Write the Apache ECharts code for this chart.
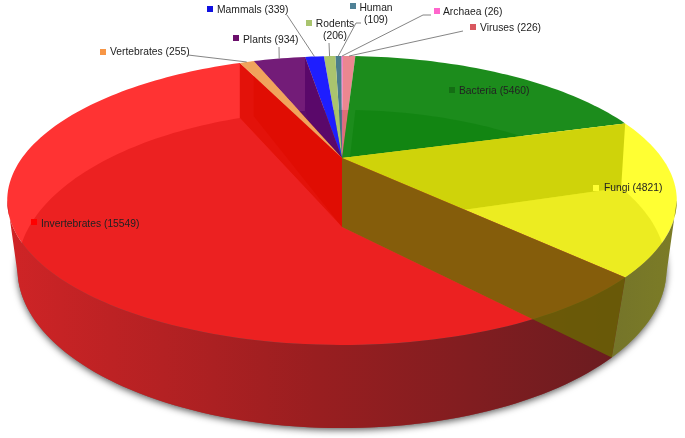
<!DOCTYPE html>
<html>
<head>
<meta charset="utf-8">
<style>
  html, body { margin: 0; padding: 0; background: #fff; }
  #chart { width: 685px; height: 438px; }
</style>
<script src="https://cdn.jsdelivr.net/npm/echarts@6/dist/echarts.min.js"></script>
</head>
<body>
<div id="chart"></div>
<script>
// clockwise from the top of the pie
const categories = ['Bacteria', 'Fungi', 'Invertebrates', 'Vertebrates', 'Plants', 'Mammals', 'Rodents', 'Human', 'Archaea', 'Viruses'];
const values = [5460, 4821, 15549, 255, 934, 339, 206, 109, 26, 226];

const topColors = ['#1c8c1c', '#ffff33', '#ff3333', '#f0a45c', '#731c78', '#1e1eff', '#aac46e', '#4b7d8c', '#f564be', '#eb8790'];
const floorColors = ['rgba(0,120,0,.35)', 'rgba(200,200,0,.35)', 'rgba(200,0,0,.35)', 'rgba(220,120,40,.35)', 'rgba(70,0,90,.5)', 'rgba(0,0,200,.25)', 'rgba(140,170,80,.35)', 'rgba(50,100,120,.35)', 'rgba(220,60,160,.35)', 'rgba(210,90,90,.5)'];
const markerColors = ['#146e14', '#ffff33', '#ff0000', '#f79646', '#6b0f6b', '#1010e0', '#a9c46e', '#4f8196', '#ff66cc', '#d9575f'];

// perspective view of the two discs, apex = where the slices meet
const START_DEG = 3.1;
const CX = 342;
const topFace = { y: 158, k: 0.294, a: 320, b: 132 };
const baseFace = { y: 227, k: 0.264, a: 313, b: 148 };

// label layout: marker x/y, where the text starts, where the leader begins
const labelLayout = [
  { i: 0, mark: [452, 90], text: [459, 91] },
  { i: 1, mark: [596, 188], text: [604, 188] },
  { i: 2, mark: [34, 222], text: [41, 224] },
  { i: 3, mark: [103, 52], text: [110, 52], leader: [[188, 55]] },
  { i: 4, mark: [236, 38], text: [243, 40], leader: [[279, 47]] },
  { i: 5, mark: [210, 9], text: [217, 10], leader: [[287, 15]] },
  { i: 6, mark: [309, 23], text: [335, 30], wrap: true, leader: [[329, 43]] },
  { i: 7, mark: [353, 6], text: [376, 14], wrap: true, leader: [[361, 23], [356, 23]] },
  { i: 8, mark: [437, 11], text: [443, 12], leader: [[431, 15], [423, 15]] },
  { i: 9, mark: [473, 27], text: [480, 28], leader: [[463, 31]] }
];

const total = values.reduce((a, b) => a + b, 0);
const startDeg = [];
const endDeg = [];
let run = START_DEG;
values.forEach((v, i) => {
  startDeg[i] = run;
  run += v / total * 360;
  endDeg[i] = run;
});

function project(face, deg) {
  const t = deg * Math.PI / 180;
  const u = Math.sin(t);
  const v = -Math.cos(t);
  const d = 1 - face.k * v;
  return [CX + face.a * u / d, face.y + face.b * v / d];
}

function arc(face, from, to) {
  const pts = [];
  const steps = Math.max(2, Math.ceil((to - from) / 1.5));
  for (let s = 0; s <= steps; s++) {
    pts.push(project(face, from + (to - from) * s / steps));
  }
  return pts;
}

function wedge(face, i) {
  return [[CX, face.y]].concat(arc(face, startDeg[i], endDeg[i]));
}

function poly(points, style) {
  return { type: 'polygon', shape: { points: points }, style: style };
}

// the cut face standing under a slice boundary
function cutWall(deg, fill) {
  return poly([[CX, topFace.y], project(topFace, deg), project(baseFace, deg), [CX, baseFace.y]], { fill: fill });
}

function slice(i) {
  return {
    type: 'group',
    children: [
      poly(wedge(topFace, i), { fill: topColors[i] }),
      poly(wedge(baseFace, i), { fill: floorColors[i] })
    ]
  };
}

function topOnly(i) {
  return poly(wedge(topFace, i), { fill: topColors[i] });
}

// outer rim, only the part turned towards the viewer
const RIM_FROM = 107;
const RIM_TO = 253;
const rimFills = {
  1: new echarts.graphic.LinearGradient(607, 0, 677, 0, [{ offset: 0, color: '#74742a' }, { offset: 1, color: '#7c7c26' }], true),
  2: new echarts.graphic.LinearGradient(10, 0, 620, 0, [
    { offset: 0, color: '#cf2426' },
    { offset: 0.5, color: '#991e20' },
    { offset: 1, color: '#6a1c20' }
  ], true)
};

function rim(i) {
  const from = Math.max(startDeg[i], RIM_FROM);
  const to = Math.min(endDeg[i], RIM_TO);
  return poly(arc(topFace, from, to).concat(arc(baseFace, from, to).reverse()), { fill: rimFills[i] });
}

function shadow() {
  return poly(arc(baseFace, 0, 360), {
    fill: '#777',
    shadowBlur: 7,
    shadowColor: 'rgba(0,0,0,.65)',
    shadowOffsetY: 2
  });
}

function label(n) {
  const l = labelLayout[n];
  const i = l.i;
  const children = [];
  if (l.leader) {
    const anchor = project(topFace, (startDeg[i] + endDeg[i]) / 2);
    children.push({
      type: 'polyline',
      shape: { points: l.leader.concat([anchor]) },
      style: { stroke: '#666', lineWidth: 0.8, fill: null }
    });
  }
  children.push({
    type: 'rect',
    shape: { x: l.mark[0] - 3, y: l.mark[1] - 3, width: 6, height: 6 },
    style: { fill: markerColors[i] }
  });
  children.push({
    type: 'text',
    x: l.text[0],
    y: l.text[1],
    style: {
      text: categories[i] + (l.wrap ? '\n' : ' ') + '(' + values[i] + ')',
      font: '10.3px "Liberation Sans"',
      lineHeight: 12,
      fill: '#222',
      align: l.wrap ? 'center' : 'left',
      verticalAlign: 'middle'
    }
  });
  return { type: 'group', children: children };
}

function layer(data, draw) {
  return {
    type: 'custom',
    coordinateSystem: 'none',
    silent: true,
    animation: false,
    data: data,
    renderItem: function (params, api) { return draw(api.value(0)); }
  };
}

const option = {
  animation: false,
  series: [
    layer([0], shadow),
    layer([9, 8, 7, 6, 5, 4], slice),
    layer([4], () => cutWall(endDeg[4], 'rgba(80,0,100,.7)')),
    layer([0, 1], slice),
    layer([0], () => cutWall(endDeg[0], 'rgba(195,200,0,.8)')),
    layer([2], slice),
    layer([1, 2], rim),
    layer([2], () => cutWall(endDeg[2], 'rgba(220,10,0,.8)')),
    layer([3], () => cutWall(endDeg[3], 'rgba(222,12,0,.7)')),
    layer([3], topOnly),
    layer([1], () => cutWall(endDeg[1], 'rgba(105,103,2,.81)')),
    layer(labelLayout.map((l, n) => n), label)
  ]
};

const myChart = echarts.init(document.getElementById('chart'));
myChart.setOption(option);
</script>
</body>
</html>
